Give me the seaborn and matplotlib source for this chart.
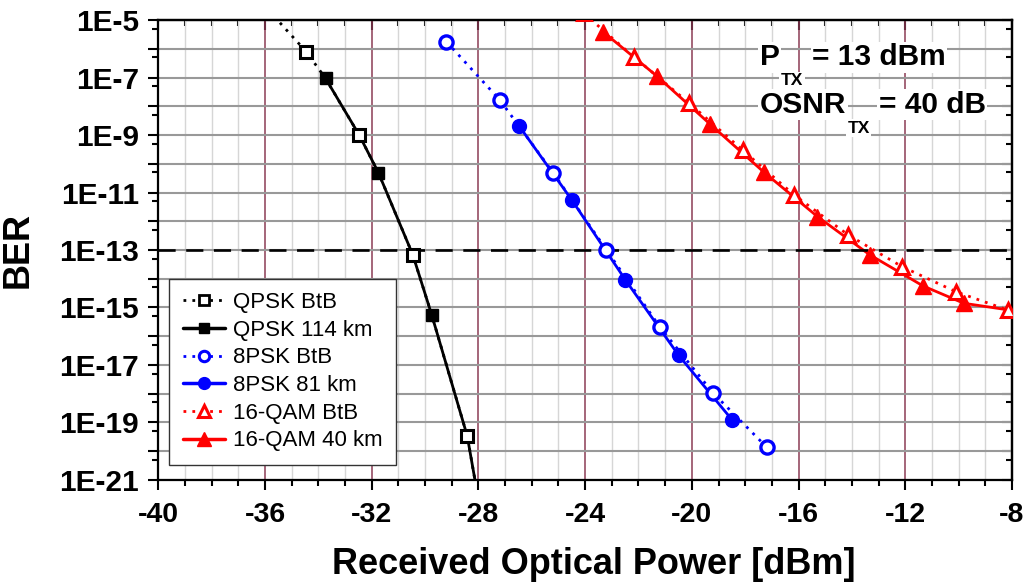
import matplotlib
matplotlib.use("Agg")
import matplotlib.pyplot as plt
from matplotlib.lines import Line2D
from matplotlib.ticker import FixedLocator, FuncFormatter, MultipleLocator
import numpy as np
import seaborn as sns

# ---- data (x in dBm, BER) ----
QPSK_BTB_X = [-34.46, -32.47, -30.46, -28.42]
QPSK_BTB_BER = [8e-7, 1e-9, 6.8e-14, 3.4e-20]
QPSK_114_X = [-33.73, -31.75, -29.75]
QPSK_114_BER = [9.3e-8, 4.9e-11, 5.5e-16]

PSK8_BTB_X = [-29.2, -27.2, -25.2, -23.2, -21.2, -19.2, -17.2]
PSK8_BTB_BER = [1.76e-6, 1.66e-8, 4.9e-11, 1e-13, 2.1e-16, 1.05e-18, 1.4e-20]
PSK8_81_X = [-26.48, -24.5, -22.49, -20.5, -18.49]
PSK8_81_BER = [2.1e-9, 5.5e-12, 9.1e-15, 2.2e-17, 1.23e-19]

QAM16_BTB_X = [-24.05, -22.15, -20.09, -18.10, -16.16, -14.13, -12.11, -10.09, -8.15]
QAM16_BTB_BER = [1.7e-5, 5e-7, 1.26e-8, 3e-10, 8.1e-12, 3.3e-13, 2.6e-14, 3.5e-15, 8.1e-16]
QAM16_40_X = [-23.33, -21.31, -19.32, -17.31, -15.29, -13.33, -11.33, -9.80]
QAM16_40_BER = [3.9e-6, 1.12e-7, 2.4e-9, 5.2e-11, 1.45e-12, 6.8e-14, 5.6e-15, 1.4e-15]

# fitted curves
QPSK_BTB_FIT_X = [-35.44, -34.46, -33.73, -32.47, -31.75, -30.46, -29.75, -28.42, -28.13]
QPSK_BTB_FIT_BER = [8e-6, 8e-7, 9.3e-8, 1e-9, 4.9e-11, 6.8e-14, 5.5e-16, 3.4e-20, 1e-21]
QPSK_114_FIT_X = [-33.73, -32.47, -31.75, -30.46, -29.75, -28.42, -28.13]
QPSK_114_FIT_BER = [9.3e-8, 1e-9, 4.9e-11, 6.8e-14, 5.5e-16, 3.4e-20, 1e-21]
QAM16_40_FIT_X = QAM16_40_X + [-8.0]
QAM16_40_FIT_BER = QAM16_40_BER + [7.9e-16]

BER_LIMIT = 1e-13
LEGEND_LABELS = ["QPSK BtB", "QPSK 114 km", "8PSK BtB", "8PSK 81 km",
                 "16-QAM BtB", "16-QAM 40 km"]

sns.set_theme(style="white")
plt.rcParams["font.family"] = ["Liberation Sans", "DejaVu Sans"]
plt.rcParams.update({"text.color": "black", "axes.labelcolor": "black",
                     "xtick.color": "black", "ytick.color": "black"})

fig = plt.figure(figsize=(10.3, 5.85), dpi=100)
ax = fig.add_axes([0.1537, 0.1795, 0.8288, 0.7863])
ax.set_yscale("log")

dots = (0, (1, 2.2))

# lines
sns.lineplot(x=QPSK_BTB_FIT_X, y=QPSK_BTB_FIT_BER, sort=False, estimator=None, ax=ax,
             color="black", lw=2, linestyle=dots)
sns.lineplot(x=QPSK_114_FIT_X, y=QPSK_114_FIT_BER, sort=False, estimator=None, ax=ax,
             color="black", lw=2)
sns.lineplot(x=PSK8_BTB_X, y=PSK8_BTB_BER, sort=False, estimator=None, ax=ax,
             color="#0000ff", lw=2, linestyle=dots)
sns.lineplot(x=PSK8_81_X, y=PSK8_81_BER, sort=False, estimator=None, ax=ax,
             color="#0000ff", lw=2)
sns.lineplot(x=QAM16_BTB_X, y=QAM16_BTB_BER, sort=False, estimator=None, ax=ax,
             color="#ff0000", lw=2, linestyle=dots)
sns.lineplot(x=QAM16_40_FIT_X, y=QAM16_40_FIT_BER, sort=False, estimator=None, ax=ax,
             color="#ff0000", lw=2)

# markers
ax.plot(QPSK_BTB_X, QPSK_BTB_BER, ls="none", marker="s", ms=8.5, mfc="white", mec="black", mew=2.2, zorder=5)
ax.plot(QPSK_114_X, QPSK_114_BER, ls="none", marker="s", ms=9, color="black", zorder=5)
ax.plot(PSK8_BTB_X, PSK8_BTB_BER, ls="none", marker="o", ms=9.5, mfc="white", mec="#0000ff", mew=2.4, zorder=5)
ax.plot(PSK8_81_X, PSK8_81_BER, ls="none", marker="o", ms=10, color="#0000ff", zorder=5)
ax.plot(QAM16_BTB_X, QAM16_BTB_BER, ls="none", marker="^", ms=10.5, mfc="white", mec="#ff0000", mew=2.2, zorder=5)
ax.plot(QAM16_40_X, QAM16_40_BER, ls="none", marker="^", ms=11, color="#ff0000", zorder=5)

ax.axhline(BER_LIMIT, color="black", lw=1.9, ls=(0, (6.5, 4)), zorder=4)

ax.set_xlim(-40, -8)
ax.set_ylim(1e-21, 1e-5)

# ticks
major_y = [10.0 ** e for e in range(-21, -4)]
minor_y = [5 * 10.0 ** e for e in range(-22, -5)]
ylab = FuncFormatter(lambda v, p: f"1E{int(round(np.log10(v)))}" if int(round(np.log10(v))) % 2 else "")
ax.xaxis.set_major_locator(MultipleLocator(4))
ax.xaxis.set_minor_locator(MultipleLocator(1))
ax.yaxis.set_major_locator(FixedLocator(major_y))
ax.yaxis.set_minor_locator(FixedLocator(minor_y))
ax.yaxis.set_major_formatter(ylab)
ax.xaxis.set_major_formatter(FuncFormatter(lambda v, p: f"{int(v)}"))
ax.tick_params(which="both", direction="out", width=1.5, colors="black",
               top=False, right=False, bottom=True, left=True)
ax.tick_params(which="major", length=7)
ax.tick_params(which="minor", length=4)
ax.tick_params(axis="x", which="major", labelsize=20.5, pad=9)
ax.tick_params(axis="y", which="major", labelsize=21.5, pad=7)
for lab in ax.get_xticklabels() + ax.get_yticklabels():
    lab.set_fontweight("bold")

top = ax.secondary_xaxis("top")
top.xaxis.set_major_locator(MultipleLocator(4))
top.xaxis.set_minor_locator(MultipleLocator(1))
top.tick_params(which="both", direction="in", width=1.5, labeltop=False, colors="black")
top.tick_params(which="major", length=7)
top.tick_params(which="minor", length=4)
right = ax.secondary_yaxis("right")
right.yaxis.set_major_locator(FixedLocator(major_y))
right.yaxis.set_minor_locator(FixedLocator(minor_y))
right.tick_params(which="both", direction="in", width=1.5, labelright=False, colors="black")
right.tick_params(which="major", length=7)
right.tick_params(which="minor", length=4)
for a in (top, right):
    for s in a.spines.values():
        s.set_linewidth(1.6)
        s.set_color("black")

for s in ax.spines.values():
    s.set_visible(True)
    s.set_linewidth(1.6)
    s.set_color("black")

# grid
ax.set_axisbelow(True)
ax.xaxis.grid(True, which="minor", color="#d6d6d6", lw=1.0)
ax.xaxis.grid(True, which="major", color="#8c3c55", lw=1.1)
ax.yaxis.grid(True, which="major", color="#999999", lw=1.5)
ax.yaxis.grid(False, which="minor")

ax.set_xlabel("Received Optical Power [dBm]", fontsize=26, fontweight="bold")
ax.set_ylabel("BER", fontsize=26, fontweight="bold")
ax.xaxis.set_label_coords(0.51, -0.145)
ax.yaxis.set_label_coords(-0.144, 0.5)

# annotations
box = dict(facecolor="white", edgecolor="none", pad=1)
t1 = ax.text(-17.45, 10 ** -6.57, "P", fontsize=21.5, fontweight="bold", va="baseline", bbox=box, zorder=6)
s1 = ax.annotate("TX", xy=(1, 0), xycoords=t1, xytext=(1, -14), textcoords="offset pixels",
                 fontsize=12.5, fontweight="bold", va="baseline", bbox=box, zorder=6)
ax.annotate("= 13 dBm", xy=(1, 0), xycoords=(s1, t1), xytext=(9, 0), textcoords="offset pixels",
            fontsize=21.5, fontweight="bold", va="bottom", bbox=box, zorder=6)
t2 = ax.text(-17.45, 10 ** -8.23, "OSNR", fontsize=21.5, fontweight="bold", va="baseline", bbox=box, zorder=6)
s2 = ax.annotate("TX", xy=(1, 0), xycoords=t2, xytext=(1, -14), textcoords="offset pixels",
                 fontsize=12.5, fontweight="bold", va="baseline", bbox=box, zorder=6)
ax.annotate("= 40 dB", xy=(1, 0), xycoords=(s2, t2), xytext=(9, 0), textcoords="offset pixels",
            fontsize=21.5, fontweight="bold", va="bottom", bbox=box, zorder=6)

# legend
handles = [
    Line2D([], [], color="black", lw=2, ls=dots, marker="s", ms=6.5, mfc="white", mec="black", mew=2),
    Line2D([], [], color="black", lw=2.5, marker="s", ms=7),
    Line2D([], [], color="#0000ff", lw=2, ls=dots, marker="o", ms=7.5, mfc="white", mec="#0000ff", mew=2.2),
    Line2D([], [], color="#0000ff", lw=2.5, marker="o", ms=8.5),
    Line2D([], [], color="#ff0000", lw=2, ls=dots, marker="^", ms=8.5, mfc="white", mec="#ff0000", mew=2.2),
    Line2D([], [], color="#ff0000", lw=2.5, marker="^", ms=9.5),
]
leg = ax.legend(handles, LEGEND_LABELS, loc="lower left", bbox_to_anchor=(0.013, 0.033),
                borderaxespad=0, fontsize=16, frameon=True, fancybox=False, framealpha=1,
                edgecolor="#333333", labelspacing=0.3, handlelength=1.9, handletextpad=0.35,
                borderpad=0.6)
leg.get_frame().set_linewidth(1.0)
leg.set_zorder(7)

fig.savefig("out.png", dpi=100)
